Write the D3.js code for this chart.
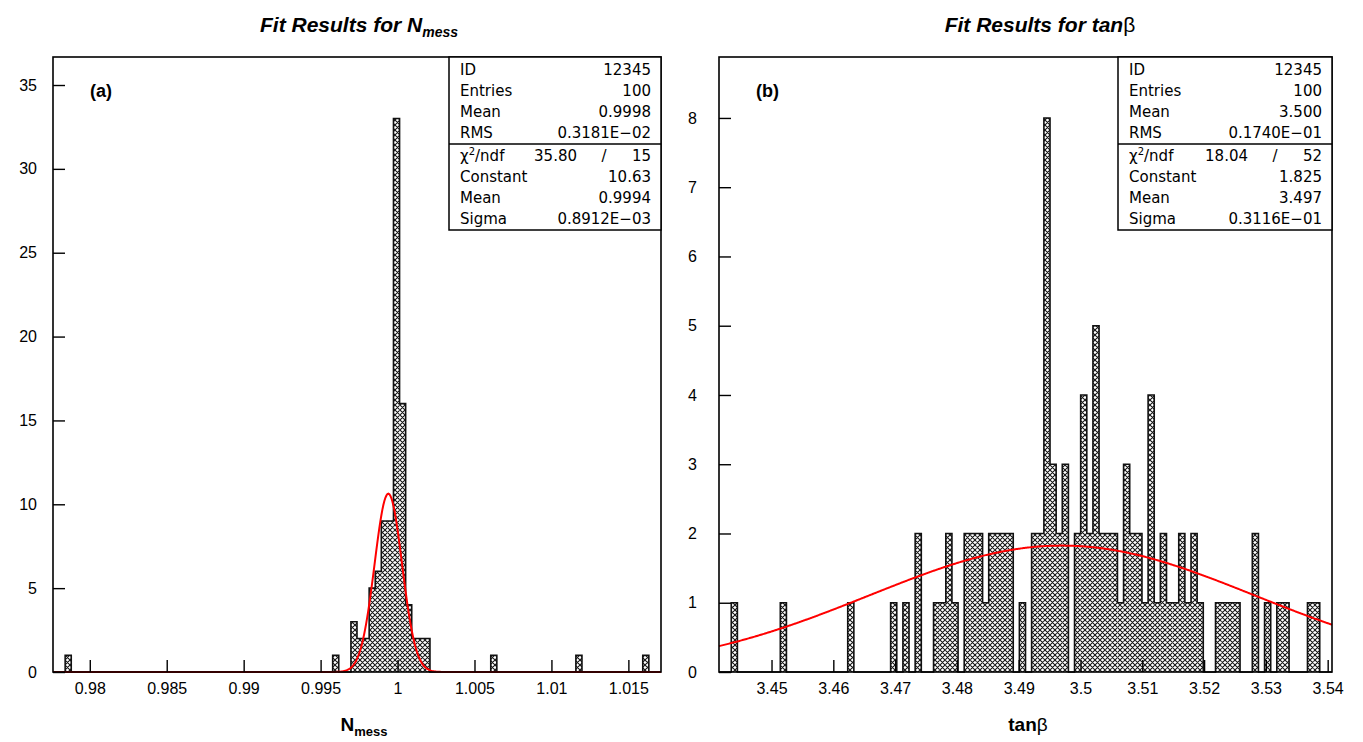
<!DOCTYPE html>
<html>
<head>
<meta charset="utf-8">
<script src="https://cdn.jsdelivr.net/npm/d3@7"></script>
<style>
  body { margin: 0; background: #fff; }
  svg { display: block; }
  text { font-family: "Liberation Sans", Arial, sans-serif; fill: #000; }
  .stat { font-family: "DejaVu Sans", sans-serif; font-size: 15px; }
</style>
</head>
<body>
<svg id="chart" width="1363" height="742"></svg>
<script>
// ---- N_mess histogram (100 bins, only the filled bins are listed) ----
const nmessRange = [0.97761, 1.01712];
const nmessBins   = [2, 46, 49, 50, 51, 52, 53, 54, 55, 56, 57, 58, 59, 60, 61, 72, 86, 97];
const nmessCounts = [1, 1, 3, 2, 2, 5, 6, 9, 9, 33, 16, 4, 2, 2, 2, 1, 1, 1];
const nmessFit = [10.63, 0.9994, 0.8912e-3];   // constant, mean, sigma
const nmessXTicks = [0.98, 0.985, 0.99, 0.995, 1, 1.005, 1.01, 1.015];
const nmessYTicks = [0, 5, 10, 15, 20, 25, 30, 35];
const nmessStats = [["ID", "12345"], ["Entries", "100"], ["Mean", "0.9998"], ["RMS", "0.3181E\u221202"]];
const nmessChi = ["35.80", "15"];
const nmessFitStats = [["Constant", "10.63"], ["Mean", "0.9994"], ["Sigma", "0.8912E\u221203"]];

// ---- tan(beta) histogram ----
const tanbRange = [3.4415, 3.5407];
const tanbBins   = [2, 10, 21, 28, 30, 32, 35, 36, 37, 38, 40, 41, 42, 43, 44, 45, 46, 47, 49,
                    51, 52, 53, 54, 55, 56, 58, 59, 60, 61, 62, 63, 64, 65, 66, 67, 68, 69, 70,
                    71, 72, 73, 74, 75, 76, 77, 78, 81, 82, 83, 84, 87, 89, 91, 92, 96, 97];
const tanbCounts = [1, 1, 1, 1, 1, 2, 1, 1, 2, 1, 2, 2, 2, 1, 2, 2, 2, 2, 1,
                    2, 2, 8, 3, 2, 3, 2, 4, 2, 5, 2, 2, 2, 1, 3, 2, 2, 1, 4,
                    1, 2, 1, 1, 2, 1, 2, 1, 1, 1, 1, 1, 2, 1, 1, 1, 1, 1];
const tanbFit = [1.825, 3.497, 0.3116e-1];
const tanbXTicks = [3.45, 3.46, 3.47, 3.48, 3.49, 3.5, 3.51, 3.52, 3.53, 3.54];
const tanbYTicks = [0, 1, 2, 3, 4, 5, 6, 7, 8];
const tanbStats = [["ID", "12345"], ["Entries", "100"], ["Mean", "3.500"], ["RMS", "0.1740E\u221201"]];
const tanbChi = ["18.04", "52"];
const tanbFitStats = [["Constant", "1.825"], ["Mean", "3.497"], ["Sigma", "0.3116E\u221201"]];

const NBINS = 100;
const svg = d3.select("#chart");

// cross hatch used by PAW
const pat = svg.append("defs").append("pattern")
  .attr("id", "hatch").attr("patternUnits", "userSpaceOnUse")
  .attr("width", 5).attr("height", 5);
pat.append("rect").attr("width", 5).attr("height", 5).attr("fill", "#fff");
pat.append("path")
  .attr("d", "M-1,1L1,-1M0,5L5,0M4,6L6,4M-1,4L1,6M0,0L5,5M4,-1L6,1")
  .attr("stroke", "#111").attr("stroke-width", 1.05);

function drawPanel(o) {
  const g = svg.append("g");
  const x = d3.scaleLinear().domain(o.range).range([o.left, o.right]);
  const y = d3.scaleLinear().domain([0, o.ymax]).range([o.bottom, o.top]);
  const bw = (o.range[1] - o.range[0]) / NBINS;

  const full = new Array(NBINS).fill(0);
  o.bins.forEach((b, i) => { full[b] = o.counts[i]; });

  // filled bars
  g.selectAll("rect.bar")
    .data(o.bins.map((b, i) => ({ b: b, c: o.counts[i] })))
    .join("rect").attr("class", "bar")
    .attr("x", d => x(o.range[0] + d.b * bw))
    .attr("width", d => x(o.range[0] + (d.b + 1) * bw) - x(o.range[0] + d.b * bw))
    .attr("y", d => y(d.c))
    .attr("height", d => y(0) - y(d.c))
    .attr("fill", "url(#hatch)");

  // step outline
  const pts = [];
  full.forEach((c, i) => {
    pts.push([x(o.range[0] + i * bw), y(c)]);
    pts.push([x(o.range[0] + (i + 1) * bw), y(c)]);
  });
  g.append("path").attr("d", d3.line()(pts))
    .attr("fill", "none").attr("stroke", "#111").attr("stroke-width", 1.6);

  // gaussian fit
  const [k, mu, s] = o.fit;
  const xs = d3.range(0, 601).map(i => o.range[0] + (o.range[1] - o.range[0]) * i / 600);
  g.append("path")
    .attr("d", d3.line().x(v => x(v)).y(v => y(k * Math.exp(-0.5 * ((v - mu) / s) ** 2)))(xs))
    .attr("fill", "none").attr("stroke", "#f00").attr("stroke-width", 2);

  // axes, ticks pointing inward
  const fmt = v => String(+v.toFixed(4));
  const xa = g.append("g").attr("transform", `translate(0,${o.bottom})`);
  xa.call(d3.axisBottom(x).tickValues(o.xMinor).tickSize(-6).tickFormat(""));
  xa.call(d3.axisBottom(x).tickValues(o.xTicks).tickSizeInner(-12).tickSizeOuter(0)
    .tickPadding(11).tickFormat(fmt));
  const ya = g.append("g").attr("transform", `translate(${o.left},0)`);
  ya.call(d3.axisLeft(y).tickValues(o.yMinor).tickSize(-6).tickFormat(""));
  ya.call(d3.axisLeft(y).tickValues(o.yTicks).tickSizeInner(-12).tickSizeOuter(0)
    .tickPadding(o.yPad).tickFormat(fmt));
  g.selectAll(".domain").remove();
  g.selectAll(".tick line").attr("stroke", "#000").attr("stroke-width", 1.4);
  g.selectAll(".tick text").style("font-family", "Liberation Sans, Arial, sans-serif")
    .style("font-size", "16px").attr("fill", "#000");

  // frame
  g.append("rect").attr("x", o.left).attr("y", o.top)
    .attr("width", o.right - o.left).attr("height", o.bottom - o.top)
    .attr("fill", "none").attr("stroke", "#000").attr("stroke-width", 1.6);

  // panel tag
  g.append("text").attr("x", o.left + 37).attr("y", 97)
    .style("font-weight", "bold").style("font-size", "18px").text(o.tag);

  // statistics box
  const bx = o.boxLeft, top = o.top, div = 144, bot = 230;
  g.append("rect").attr("x", bx).attr("y", top).attr("width", o.right - bx).attr("height", bot - top)
    .attr("fill", "#fff").attr("stroke", "#000").attr("stroke-width", 1.5);
  g.append("line").attr("x1", bx).attr("x2", o.right).attr("y1", div).attr("y2", div)
    .attr("stroke", "#000").attr("stroke-width", 1.5);
  const lx = bx + 11, rx = o.right - 10;
  const row = (label, val, yy) => {
    g.append("text").attr("class", "stat").attr("x", lx).attr("y", yy).text(label);
    g.append("text").attr("class", "stat").attr("x", rx).attr("y", yy)
      .attr("text-anchor", "end").text(val);
  };
  o.stats.forEach((r, i) => row(r[0], r[1], 75 + 21 * i));
  const cy = 161;
  const chi = g.append("text").attr("class", "stat").attr("x", lx).attr("y", cy);
  chi.append("tspan").text("\u03c7");
  chi.append("tspan").attr("dy", -6).style("font-size", "10px").text("2");
  chi.append("tspan").attr("dy", 6).text("/ndf");
  g.append("text").attr("class", "stat").attr("x", rx - 74).attr("y", cy)
    .attr("text-anchor", "end").text(o.chi[0]);
  g.append("text").attr("class", "stat").attr("x", rx - 47).attr("y", cy)
    .attr("text-anchor", "middle").text("/");
  g.append("text").attr("class", "stat").attr("x", rx).attr("y", cy)
    .attr("text-anchor", "end").text(o.chi[1]);
  o.fitStats.forEach((r, i) => row(r[0], r[1], 182 + 21 * i));
}

function minorTicks(a, b, step) {
  return d3.range(Math.ceil(a / step - 1e-9), Math.floor(b / step + 1e-9) + 1).map(i => +(i * step).toFixed(5));
}

drawPanel({
  range: nmessRange, bins: nmessBins, counts: nmessCounts, fit: nmessFit,
  left: 53, right: 661, top: 57, bottom: 672, ymax: 36.67, yPad: 16,
  xTicks: nmessXTicks, xMinor: minorTicks(nmessRange[0], nmessRange[1], 0.001),
  yTicks: nmessYTicks, yMinor: minorTicks(0, 36.6, 1),
  tag: "(a)", boxLeft: 449,
  stats: nmessStats, chi: nmessChi, fitStats: nmessFitStats
});

drawPanel({
  range: tanbRange, bins: tanbBins, counts: tanbCounts, fit: tanbFit,
  left: 719, right: 1332, top: 57, bottom: 672, ymax: 8.88, yPad: 22,
  xTicks: tanbXTicks, xMinor: minorTicks(tanbRange[0], tanbRange[1], 0.002),
  yTicks: tanbYTicks, yMinor: minorTicks(0, 8.8, 0.2),
  tag: "(b)", boxLeft: 1118,
  stats: tanbStats, chi: tanbChi, fitStats: tanbFitStats
});

// titles
const t1 = svg.append("text").attr("x", 359).attr("y", 32).attr("text-anchor", "middle")
  .style("font-weight", "bold").style("font-style", "italic").style("font-size", "21px");
t1.append("tspan").text("Fit Results for N");
t1.append("tspan").attr("dy", 5).style("font-size", "14px").text("mess");

const t2 = svg.append("text").attr("x", 1040).attr("y", 32).attr("text-anchor", "middle")
  .style("font-weight", "bold").style("font-style", "italic").style("font-size", "21px");
t2.append("tspan").text("Fit Results for tan");
t2.append("tspan").style("font-style", "normal").style("font-weight", "normal").text("\u03b2");

// axis titles
const a1 = svg.append("text").attr("x", 364).attr("y", 731).attr("text-anchor", "middle")
  .style("font-weight", "bold").style("font-size", "19px");
a1.append("tspan").text("N");
a1.append("tspan").attr("dy", 5).style("font-size", "13px").text("mess");

const a2 = svg.append("text").attr("x", 1028).attr("y", 731).attr("text-anchor", "middle")
  .style("font-weight", "bold").style("font-size", "19px");
a2.append("tspan").text("tan");
a2.append("tspan").style("font-weight", "normal").text("\u03b2");
</script>
</body>
</html>
